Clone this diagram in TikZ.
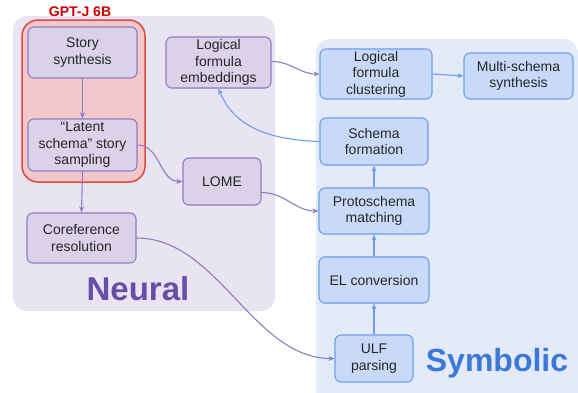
\documentclass[tikz,border=0pt]{standalone}
\usepackage{fontspec}
\setmainfont{Liberation Sans}
\usetikzlibrary{arrows.meta}
\definecolor{neuralbg}{HTML}{E8E4F1}
\definecolor{neuralfill}{HTML}{D9D2E9}
\definecolor{neuraldraw}{HTML}{8E7CC3}
\definecolor{neuraltext}{HTML}{674EA7}
\definecolor{symbg}{HTML}{E3EBFA}
\definecolor{symfill}{HTML}{C9DAF8}
\definecolor{symdraw}{HTML}{6D9EEB}
\definecolor{symtext}{HTML}{3C78D8}
\definecolor{gptfill}{HTML}{F4C7CB}
\definecolor{gptdraw}{HTML}{DD4B3E}
\definecolor{gpttext}{HTML}{CC0000}
\begin{document}
\begin{tikzpicture}[x=1pt,y=-1pt,
  box/.style={rectangle,rounded corners=6pt,line width=1.1pt,align=center,
    inner sep=0pt,font=\fontsize{14}{16.5}\selectfont,text=black!85},
  nbox/.style={box,fill=neuralfill,draw=neuraldraw},
  sbox/.style={box,fill=symfill,draw=symdraw},
  narrow/.style={draw=neuraldraw,line width=1.1pt,-{Stealth[length=6pt,width=5pt]}},
  sarrow/.style={draw=symdraw,line width=1.1pt,-{Stealth[length=6pt,width=5pt]}},
  region/.style={rounded corners=14pt}]
\useasboundingbox (0,0) rectangle (578,392);
\clip (0,0) rectangle (578,392);
% regions
\fill[neuralbg,region] (13,16) rectangle (275,311);
\fill[symbg,region] (316,39) rectangle (578,410);
\draw[gptdraw,fill=gptfill,line width=1.5pt,rounded corners=16pt] (22,20) rectangle (145,182);
\node[font=\fontsize{14}{16}\bfseries\selectfont,text=gpttext] (gpt) at (80,12) {GPT-J 6B};
\node[font=\fontsize{33}{36}\bfseries\selectfont,text=neuraltext] (neural) at (138,289) {Neural};
\node[font=\fontsize{32}{36}\bfseries\selectfont,text=symtext] (symbolic) at (497,363) {Symbolic};
% neural nodes
\node[nbox,minimum width=109pt,minimum height=51pt] (story) at (82.5,52.5) {Story\\synthesis};
\node[nbox,minimum width=109pt,minimum height=52pt] (latent) at (82.5,145) {``Latent\\schema'' story\\sampling};
\node[nbox,minimum width=105pt,minimum height=51pt] (lfe) at (218.5,62.5) {Logical\\formula\\embeddings};
\node[nbox,minimum width=78pt,minimum height=47pt] (lome) at (222,181.5) {LOME};
\node[nbox,minimum width=109pt,minimum height=50pt] (coref) at (81.5,238) {Coreference\\resolution};
% symbolic nodes
\node[sbox,minimum width=112pt,minimum height=50pt] (clust) at (376,74) {Logical\\formula\\clustering};
\node[sbox,minimum width=109pt,minimum height=46pt] (multi) at (518.5,76) {Multi-schema\\synthesis};
\node[sbox,minimum width=108pt,minimum height=47pt] (sf) at (374,141.5) {Schema\\formation};
\node[sbox,minimum width=110pt,minimum height=46pt] (proto) at (374,211) {Protoschema\\matching};
\node[sbox,minimum width=110pt,minimum height=46pt] (el) at (374,280) {EL conversion};
\node[sbox,minimum width=78pt,minimum height=47pt] (ulf) at (374,358.5) {ULF\\parsing};
% neural arrows
\draw[narrow] (story.south) -- (latent.north);
\draw[narrow] (latent.south) -- (coref.north);
\draw[narrow] (latent.east) to[out=0,in=180] (lome.west);
\draw[narrow] ([yshift=-11pt]lome.east) to[out=0,in=180] (proto.west);
\draw[narrow] (coref.east) to[out=0,in=180,looseness=0.9] (ulf.west);
\draw[narrow] ([yshift=1pt]lfe.east) to[out=0,in=180] (clust.west);
% symbolic arrows
\draw[sarrow] (clust.east) -- (multi.west);
\draw[sarrow] (ulf.north) -- (el.south);
\draw[sarrow] (el.north) -- (proto.south);
\draw[sarrow] (proto.north) -- (sf.south);
\draw[sarrow] (sf.west) to[out=178,in=-68] (lfe.south);
\end{tikzpicture}
\end{document}
